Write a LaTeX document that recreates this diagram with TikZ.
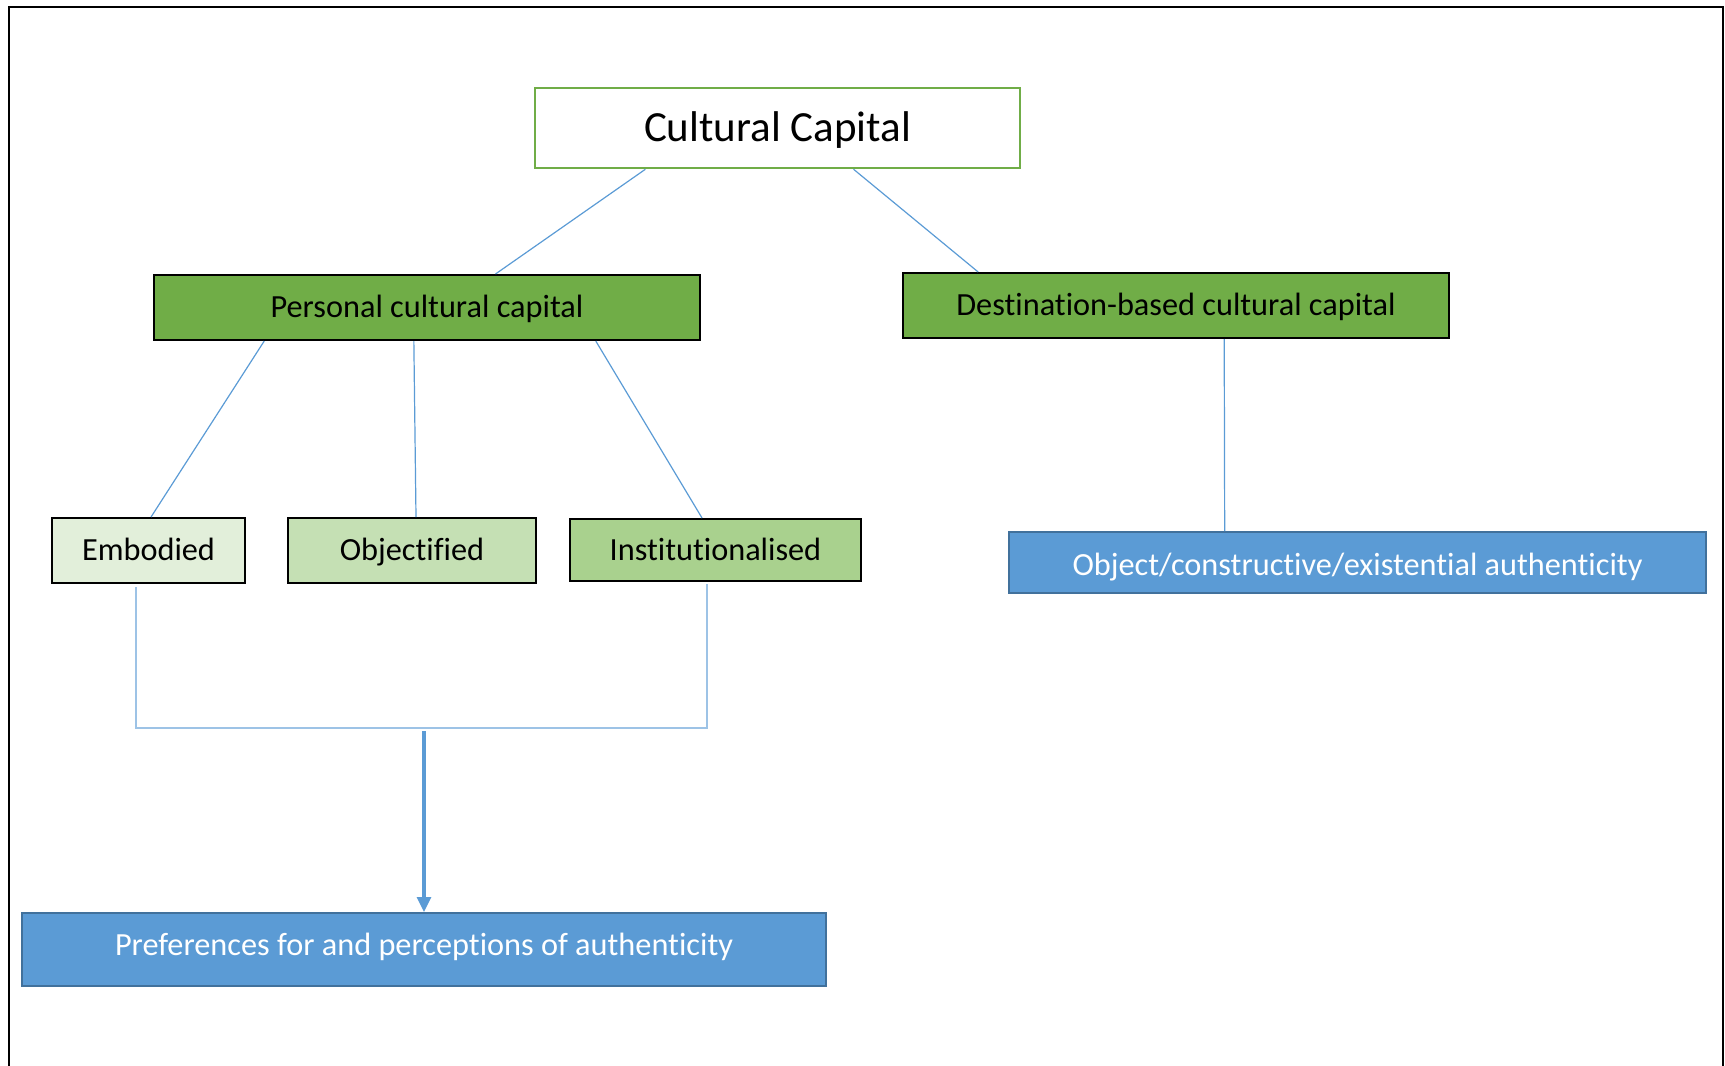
\documentclass[tikz,border=0pt]{standalone}
\usepackage{fontspec}
\setmainfont{Carlito}[RawFeature={-liga;-clig}]
\usetikzlibrary{calc,arrows.meta}
\definecolor{cgreen}{HTML}{70AD47}
\definecolor{cemb}{HTML}{E2EFDA}
\definecolor{cobj}{HTML}{C5E0B4}
\definecolor{cinst}{HTML}{A9D18E}
\definecolor{cblue}{HTML}{5B9BD5}
\definecolor{cblueb}{HTML}{41719C}
\definecolor{clight}{HTML}{9DC3E6}
\begin{document}
\begin{tikzpicture}[x=1pt,y=-1pt,
  box/.style={draw=black,line width=2pt,inner sep=0pt,text height=25.5pt,text depth=5.5pt,font=\fontsize{32.3}{38}\selectfont},
  bluebox/.style={draw=cblueb,fill=cblue,line width=2pt,inner sep=0pt,text=white,font=\fontsize{32.3}{38}\selectfont},
  conn/.style={draw=cblue,line width=1.2pt},
  brack/.style={draw=clight,line width=1.5pt},
  arr/.style={draw=cblue,line width=3.2pt,-{Triangle[length=15pt,width=14pt]}}]
\useasboundingbox (0,0) rectangle (1725,1066);
% frame
\draw[line width=2pt] (9,1070) -- (9,7) -- (1723,7) -- (1723,1070);
% nodes
\node[draw=cgreen,line width=2.5pt,inner sep=0pt,minimum width=485pt,minimum height=80pt,text height=34pt,text depth=8pt,font=\fontsize{43}{50}\selectfont] (cc) at (777.5,128) {Cultural Capital};
\node[box,fill=cgreen,minimum width=546pt,minimum height=65pt] (pcc) at (427,307.5) {Personal cultural capital};
\node[box,fill=cgreen,minimum width=546pt,minimum height=65pt] (dcc) at (1176,305.5) {Destination-based cultural capital};
\node[box,fill=cemb,minimum width=193pt,minimum height=65pt] (emb) at (148.5,550.5) {Embodied};
\node[box,fill=cobj,minimum width=248pt,minimum height=65pt] (obj) at (412,550.5) {Objectified};
\node[box,fill=cinst,minimum width=291pt,minimum height=62pt] (inst) at (715.5,550) {Institutionalised};
\node[bluebox,minimum width=697pt,minimum height=61pt,text height=28pt,text depth=3pt] (auth) at (1357.5,562.5) {Object/constructive/existential authenticity};
\node[bluebox,minimum width=804pt,minimum height=73pt,text height=21pt,text depth=10pt] (pref) at (424,949.5) {Preferences for and perceptions of authenticity};
% connectors
\draw[conn] ($(cc.south west)!0.229!(cc.south east)$) -- ($(pcc.north west)!0.625!(pcc.north east)$);
\draw[conn] ($(cc.south west)!0.656!(cc.south east)$) -- ($(dcc.north west)!0.139!(dcc.north east)$);
\draw[conn] ($(pcc.south west)!0.203!(pcc.south east)$) -- ($(emb.north west)!0.513!(emb.north east)$);
\draw[conn] ($(pcc.south west)!0.476!(pcc.south east)$) -- ($(obj.north west)!0.516!(obj.north east)$);
\draw[conn] ($(pcc.south west)!0.808!(pcc.south east)$) -- ($(inst.north west)!0.454!(inst.north east)$);
\draw[conn] ($(dcc.south west)!0.588!(dcc.south east)$) -- ($(auth.north west)!0.31!(auth.north east)$);
\coordinate (brk) at (424,728);
\coordinate (join) at (424,731);
\draw[brack] ($(emb.south west)!0.435!(emb.south east)+(0,3)$) |- (brk) -| ($(inst.south west)!0.471!(inst.south east)+(0,2)$);
\draw[arr] (join) -- (pref.north);
\end{tikzpicture}
\end{document}
